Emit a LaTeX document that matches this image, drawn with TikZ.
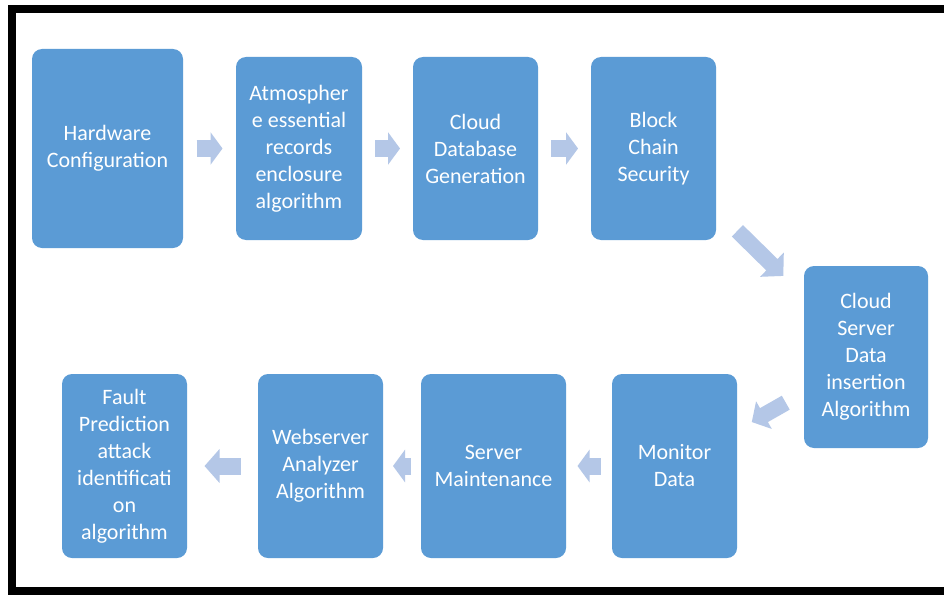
\documentclass[tikz,border=0pt]{standalone}
\usepackage{fontspec}
\setmainfont{Carlito}
\usetikzlibrary{arrows.meta}
\definecolor{boxblue}{HTML}{5B9BD5}
\definecolor{arrowblue}{HTML}{B4C7E7}

\begin{document}
\begin{tikzpicture}[x=1pt,y=-1pt,
    stage/.style={fill=boxblue,rounded corners=10pt,text=white,align=center,
      inner sep=0pt,outer sep=0pt,font=\fontsize{22}{27}\selectfont},
    flow/.style={draw=arrowblue,line width=17pt,-{Triangle[length=12pt,width=32pt]}}]
            \clip (0,0) rectangle (944,594);
            \fill[white] (0,0) rectangle (944,594);
            \draw[line width=8pt] (11.5,9) rectangle (960,591);
            % top row
            \node[stage,minimum width=151pt,minimum height=199pt] (hw) at (107.5,148.5) {Hardware\\Configuration};
            \node[stage,minimum width=126pt,minimum height=183pt] (atm) at (299,148.5) {Atmospher\\e essential\\records\\enclosure\\algorithm};
            \node[stage,minimum width=125pt,minimum height=183pt] (cdb) at (475.5,148.5) {Cloud\\Database\\Generation};
            \node[stage,minimum width=125pt,minimum height=183pt] (bcs) at (653.5,148.5) {Block\\Chain\\Security};
            \node[stage,minimum width=124pt,minimum height=182pt] (csd) at (866,357) {Cloud\\Server\\Data\\insertion\\Algorithm};
            % bottom row
            \node[stage,minimum width=125pt,minimum height=184pt] (mon) at (674.5,466) {Monitor\\Data};
            \node[stage,minimum width=145pt,minimum height=184pt] (srv) at (493.5,466) {Server\\Maintenance};
            \node[stage,minimum width=125pt,minimum height=184pt] (web) at (320.5,466) {Webserver\\Analyzer\\Algorithm};
            \node[stage,minimum width=125pt,minimum height=184pt] (flt) at (124.5,466) {Fault\\Prediction\\attack\\identificati\\on\\algorithm};
            % arrows
            \draw[flow,shorten <=13.5pt,shorten >=13.5pt] (hw) -- (atm);
            \draw[flow,shorten <=13pt,shorten >=13pt] (atm) -- (cdb);
            \draw[flow,shorten <=13pt,shorten >=13pt] (cdb) -- (bcs);
            \draw[flow,line width=16pt,-{Triangle[length=16pt,width=33pt]},shorten <=30pt,shorten >=29pt] (bcs) -- (csd);
            \draw[flow,line width=16pt,-{Triangle[length=14pt,width=31pt]},shorten <=21pt,shorten >=17pt] (csd) -- (mon);
            \draw[flow,shorten <=11.5pt,shorten >=11.5pt] (mon) -- (srv);
            \draw[flow,shorten <=10pt,shorten >=10pt] (srv) -- (web);
            \draw[flow,-{Triangle[length=15pt,width=33pt]},shorten <=17.5pt,shorten >=17.5pt] (web) -- (flt);
\end{tikzpicture}
\end{document}
